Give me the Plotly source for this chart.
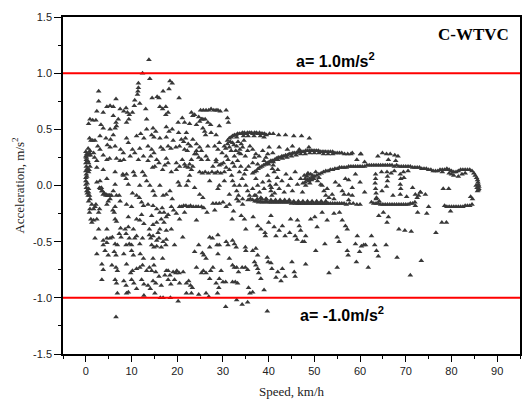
import plotly.graph_objects as go

# Acceleration vs. speed samples of the C-WTVC cycle, grouped by region of the map.
# Each entry is (speed in km/h, acceleration in m/s^2).

low_speed_start = [
    (0.0, 0.30), (0.2, 0.28), (0.1, 0.25), (0.0, 0.20), (0.1, 0.17), (0.0, 0.13),
    (0.1, 0.10), (0.0, 0.07), (0.0, 0.04), (0.0, 0.01), (0.1, -0.02), (0.2, -0.05),
    (0.3, -0.07), (0.5, -0.09), (0.4, 0.22), (0.6, 0.27), (0.3, 0.15), (0.2, 0.08),
    (0.3, 0.02), (0.8, 0.29), (1.0, 0.27), (0.6, -0.03), (0.1, 0.23), (0.0, 0.26),
    (0.6, 0.20), (0.9, 0.17), (0.7, 0.14), (0.6, 0.12), (0.6, -0.06), (0.8, -0.09),
    (0.9, -0.12), (0.6, -0.14), (1.3, -0.17), (0.9, -0.21), (0.8, -0.24),
    (1.7, -0.21), (2.0, -0.19), (2.2, -0.17), (1.1, -0.30), (1.3, -0.33), (1.7, -0.31),
    (2.4, -0.30), (2.8, -0.24), (3.0, -0.21),
]

banana_low = [
    (3.0, -0.02), (3.2, -0.03), (3.4, -0.02), (3.5, -0.05), (3.6, -0.05), (3.8, -0.08),
    (4.0, -0.07), (4.4, -0.09), (4.4, -0.08), (4.8, -0.09), (4.9, -0.09), (5.2, -0.09),
    (5.3, -0.09), (5.6, -0.09), (2.4, 0.03), (3.1, 0.04), (6.0, -0.05), (6.7, -0.09),
    (7.3, -0.09), (6.4, 0.01), (4.6, 0.06),
]

urban_accel = [
    (13.8, 1.12), (12.4, 1.00), (14.0, 0.95), (11.5, 0.91), (11.5, 0.87), (11.4, 0.84),
    (11.3, 0.81), (10.7, 0.76), (10.6, 0.71), (18.4, 0.93), (18.9, 0.91), (18.2, 0.86),
    (20.4, 0.78), (16.9, 0.84), (15.6, 0.79), (16.0, 0.78), (14.5, 0.78), (2.8, 0.84),
    (6.6, 0.77), (2.8, 0.75), (11.8, 0.73), (4.6, 0.70), (5.3, 0.71), (6.0, 0.70),
    (7.5, 0.68), (8.3, 0.66), (8.8, 0.69), (9.1, 0.65), (9.5, 0.63), (10.2, 0.65),
    (13.1, 0.68), (16.2, 0.70), (16.8, 0.68), (17.5, 0.70), (17.5, 0.63), (18.0, 0.65),
    (2.4, 0.66), (3.8, 0.65), (6.0, 0.62), (0.9, 0.59), (1.5, 0.58), (2.2, 0.58),
    (0.6, 0.55), (3.3, 0.54), (3.8, 0.51), (7.1, 0.59), (6.6, 0.56), (6.7, 0.53),
    (6.4, 0.51), (5.3, 0.50), (9.4, 0.59), (8.9, 0.56), (13.3, 0.59), (21.1, 0.60),
    (21.6, 0.56), (23.1, 0.65), (23.4, 0.62), (23.8, 0.63), (24.7, 0.61), (25.3, 0.59),
    (25.6, 0.59), (26.1, 0.59), (25.1, 0.67), (25.7, 0.67), (26.3, 0.67), (26.9, 0.67),
    (27.4, 0.68), (28.0, 0.67), (28.5, 0.67), (28.9, 0.67), (29.4, 0.66), (30.7, 0.67),
    (31.0, 0.60), (31.2, 0.56), (22.7, 0.55), (24.2, 0.54), (24.9, 0.57), (26.7, 0.56),
    (27.3, 0.54), (29.2, 0.53), (13.3, 0.50), (14.7, 0.51), (15.3, 0.48), (12.0, 0.46),
    (17.6, 0.52), (18.2, 0.48), (18.9, 0.50), (20.2, 0.56), (20.3, 0.47), (22.0, 0.47),
    (25.6, 0.51), (26.0, 0.48), (26.2, 0.45), (27.4, 0.47), (28.5, 0.45),
    (0.8, 0.42), (1.1, 0.40), (1.5, 0.40), (2.0, 0.40), (3.1, 0.44), (4.4, 0.42),
    (5.4, 0.41), (6.0, 0.45), (8.9, 0.42), (9.3, 0.38), (11.1, 0.44), (12.7, 0.42),
    (14.4, 0.45), (14.9, 0.43), (16.2, 0.42), (17.6, 0.43), (19.1, 0.40), (20.9, 0.41),
    (21.4, 0.39), (21.8, 0.42), (22.4, 0.37), (22.9, 0.35), (23.4, 0.41), (24.2, 0.37),
    (24.9, 0.34), (26.7, 0.35), (0.5, 0.33), (0.9, 0.31), (1.7, 0.29), (2.6, 0.35),
    (3.1, 0.32), (4.7, 0.36), (5.3, 0.34), (6.4, 0.35), (7.6, 0.32), (8.2, 0.29),
    (10.2, 0.32), (10.7, 0.29), (11.8, 0.33), (13.6, 0.35), (14.4, 0.32), (14.9, 0.29),
    (16.4, 0.34), (16.9, 0.32), (18.0, 0.35), (18.6, 0.33), (19.7, 0.34), (20.5, 0.35),
    (21.6, 0.32), (22.2, 0.31), (23.8, 0.28), (24.2, 0.31), (25.3, 0.31),
    (1.9, 0.25), (2.4, 0.22), (3.8, 0.27), (4.6, 0.23), (5.2, 0.24), (6.7, 0.24),
    (7.5, 0.22), (8.3, 0.23), (9.7, 0.26), (11.5, 0.23), (12.6, 0.26), (13.6, 0.22),
    (14.2, 0.26), (15.5, 0.23), (16.0, 0.20), (17.6, 0.24), (18.0, 0.20), (19.8, 0.20),
    (21.1, 0.23), (21.6, 0.19), (22.7, 0.19), (23.1, 0.23), (24.2, 0.28), (24.7, 0.25),
    (25.3, 0.23), (26.3, 0.26), (26.7, 0.23), (2.4, 0.16), (3.8, 0.14), (6.4, 0.12),
    (8.1, 0.10), (8.9, 0.10), (10.4, 0.12), (10.7, 0.09), (12.4, 0.12), (12.9, 0.09),
    (14.6, 0.16), (15.1, 0.17), (16.8, 0.14), (17.3, 0.18), (18.7, 0.12), (19.8, 0.14),
    (20.5, 0.17), (21.8, 0.17), (22.4, 0.16), (23.1, 0.14), (23.4, 0.17),
    (24.9, 0.12), (25.5, 0.11), (26.1, 0.12), (26.8, 0.11), (27.6, 0.12), (28.3, 0.11),
    (28.8, 0.12), (29.5, 0.11), (30.3, 0.12), (27.8, 0.17), (28.5, 0.21), (29.2, 0.18),
    (30.1, 0.20), (30.7, 0.16),
]

urban_cruise = [
    (8.2, 0.09), (8.8, 0.06), (9.3, 0.01), (10.2, -0.07), (11.1, -0.09), (11.7, -0.11),
    (11.8, 0.00), (13.3, 0.04), (14.0, 0.00), (14.7, -0.05), (15.1, -0.09), (16.2, 0.00),
    (16.9, -0.09), (17.6, -0.08), (18.4, -0.05), (18.9, -0.12), (20.2, 0.03), (20.5, 0.00),
    (22.0, 0.00), (22.4, 0.04), (22.7, 0.09), (23.8, -0.02), (24.9, -0.08), (25.6, -0.11),
    (27.1, 0.04), (28.9, -0.03), (29.2, 0.00), (30.3, 0.04),
]

urban_decel = [
    (4.6, -0.17), (4.9, -0.14), (5.3, -0.12), (6.4, -0.19), (5.9, -0.22), (6.2, -0.24),
    (7.5, -0.14), (8.9, -0.17), (10.0, -0.19), (12.2, -0.15), (12.6, -0.18), (13.6, -0.17),
    (14.7, -0.18), (15.5, -0.21), (16.2, -0.24), (16.7, -0.20), (17.1, -0.24), (17.6, -0.28),
    (18.0, -0.26), (16.5, -0.30), (17.1, -0.33), (18.7, -0.19), (19.2, -0.22), (19.8, -0.25),
    (20.5, -0.19), (20.9, -0.19), (21.4, -0.18), (21.9, -0.18), (22.4, -0.19), (22.9, -0.18),
    (23.5, -0.19), (24.1, -0.19), (24.6, -0.19), (25.3, -0.19), (25.8, -0.20),
    (21.6, -0.24), (26.5, -0.24), (27.8, -0.16), (28.5, -0.16), (29.2, -0.16), (30.0, -0.15),
    (6.4, -0.30), (6.7, -0.32), (9.3, -0.28), (11.1, -0.30), (12.2, -0.26), (14.4, -0.27),
    (15.5, -0.33), (20.5, -0.30), (24.2, -0.31), (2.8, -0.39), (4.6, -0.39), (7.6, -0.38),
    (8.6, -0.39), (9.3, -0.37), (10.4, -0.39), (11.8, -0.31), (12.7, -0.34), (13.9, -0.39),
    (14.7, -0.35), (15.8, -0.42), (16.2, -0.39), (17.6, -0.40), (18.7, -0.39), (21.2, -0.46),
    (2.0, -0.47), (3.8, -0.49), (4.6, -0.47), (5.3, -0.47), (5.8, -0.46), (7.3, -0.43),
    (7.7, -0.46), (8.8, -0.43), (9.5, -0.47), (10.7, -0.47), (11.1, -0.45), (11.8, -0.52),
    (12.4, -0.47), (13.9, -0.44), (14.2, -0.47), (14.7, -0.45), (15.5, -0.49), (16.0, -0.47),
    (16.9, -0.50), (17.6, -0.48), (3.8, -0.53), (4.6, -0.51), (6.4, -0.52), (6.9, -0.53),
    (8.8, -0.53), (9.5, -0.52), (10.0, -0.53), (14.4, -0.53), (14.9, -0.55), (15.5, -0.54),
    (16.5, -0.55), (17.5, -0.53), (19.4, -0.53), (2.4, -0.61), (4.2, -0.58), (4.9, -0.62),
    (6.2, -0.59), (6.6, -0.62), (8.3, -0.61), (10.0, -0.58), (10.4, -0.62), (11.9, -0.61),
    (12.6, -0.65), (14.7, -0.65), (16.8, -0.65), (3.5, -0.70), (3.8, -0.75), (5.7, -0.71),
    (6.6, -0.73), (6.9, -0.76), (8.9, -0.70), (9.8, -0.78), (10.2, -0.76), (11.1, -0.74),
    (11.8, -0.73), (12.4, -0.71), (13.3, -0.76), (13.9, -0.73), (14.4, -0.76), (14.9, -0.71),
    (15.3, -0.77), (16.0, -0.81), (17.3, -0.80), (17.6, -0.76), (3.5, -0.84), (6.4, -0.84),
    (6.7, -0.87), (8.3, -0.85), (8.8, -0.89), (10.0, -0.84), (10.5, -0.87), (11.1, -0.92),
    (12.2, -0.84), (12.7, -0.88), (13.6, -0.89), (14.1, -0.92), (14.7, -0.85), (15.3, -0.87),
    (16.5, -0.89), (6.9, -0.96), (8.9, -0.96), (9.3, -0.95), (12.7, -0.98), (15.1, -0.96),
    (16.3, -1.00), (16.9, -1.00), (18.5, -1.00), (20.2, -1.03), (6.6, -1.17),
    (18.0, -0.76), (18.4, -0.80), (19.1, -0.77), (19.7, -0.78), (19.9, -0.76), (20.4, -0.78),
    (21.3, -0.77), (18.0, -0.84), (18.6, -0.88), (19.4, -0.84), (20.5, -0.87), (22.0, -0.87),
    (22.5, -0.85), (22.9, -0.89), (23.3, -0.91), (24.7, -0.97), (26.3, -0.96), (26.9, -0.99),
    (23.1, -0.96), (22.0, -0.96), (25.7, -0.76), (26.3, -0.78), (25.3, -0.78), (27.3, -0.76),
    (27.8, -0.73), (24.2, -0.73), (27.1, -0.83), (28.5, -0.87), (29.1, -0.91), (29.2, -0.83),
    (29.6, -0.76), (28.8, -0.96), (30.0, -0.86), (30.6, -0.86), (23.8, -0.59), (24.7, -0.53),
    (25.5, -0.60), (25.8, -0.62), (27.1, -0.55), (27.1, -0.46), (27.7, -0.47), (28.7, -0.53),
    (28.9, -0.44), (29.2, -0.53), (30.7, -0.50), (31.1, -0.53), (28.9, -0.61), (26.3, -0.65),
    (31.4, -0.65), (28.2, -0.22),
]

suburban_accel = [
    (31.0, 0.40), (31.4, 0.42), (31.8, 0.43), (32.1, 0.44), (32.5, 0.45), (32.9, 0.45),
    (33.2, 0.46), (33.6, 0.46), (34.0, 0.46), (34.3, 0.47), (34.7, 0.47), (35.1, 0.46),
    (35.4, 0.47), (35.8, 0.47), (36.2, 0.47), (36.5, 0.46), (36.9, 0.47), (37.3, 0.47),
    (37.6, 0.46), (38.0, 0.47), (38.4, 0.46), (38.7, 0.46), (39.1, 0.46), (39.5, 0.45),
    (40.2, 0.46), (41.0, 0.46), (42.2, 0.45), (43.7, 0.45), (45.5, 0.44), (47.2, 0.44),
    (48.9, 0.42), (33.0, 0.43), (34.5, 0.44), (35.5, 0.44), (36.8, 0.44), (38.2, 0.44),
    (39.0, 0.43), (28.2, 0.35), (28.9, 0.32), (29.2, 0.38), (29.8, 0.29), (30.3, 0.35),
    (30.7, 0.26), (31.4, 0.34), (31.8, 0.31), (32.1, 0.38), (32.5, 0.26), (33.0, 0.35),
    (33.5, 0.29), (33.7, 0.32), (34.3, 0.34), (34.9, 0.26), (35.4, 0.31), (35.9, 0.35),
    (36.5, 0.32), (36.9, 0.25), (37.2, 0.28), (37.9, 0.26), (38.7, 0.31), (39.0, 0.22),
    (39.8, 0.28), (40.1, 0.34), (31.1, 0.23), (32.1, 0.20), (33.2, 0.22), (33.9, 0.17),
    (35.0, 0.14), (28.5, 0.23), (29.6, 0.19), (31.4, 0.14), (32.5, 0.17), (33.6, 0.12),
    (35.6, 0.17), (36.5, 0.20), (37.6, 0.19), (34.7, 0.10), (39.4, 0.25), (40.9, 0.29),
    (42.3, 0.34), (44.1, 0.32), (45.2, 0.35), (46.7, 0.32), (48.8, 0.34), (31.0, 0.37),
    (31.6, 0.39), (32.4, 0.36), (33.3, 0.39), (34.0, 0.37), (34.6, 0.40), (32.8, 0.31),
    (33.9, 0.28), (30.6, 0.33),
]

suburban_rise = [
    (36.5, 0.11), (36.9, 0.12), (37.3, 0.13), (37.7, 0.15), (38.1, 0.16), (38.5, 0.17),
    (38.9, 0.18), (39.3, 0.19), (39.7, 0.20), (40.1, 0.21), (40.5, 0.22), (40.9, 0.22),
    (41.3, 0.23), (41.7, 0.24), (42.1, 0.25), (42.5, 0.25), (42.9, 0.26), (43.3, 0.26),
    (43.7, 0.27), (44.1, 0.27), (44.5, 0.28), (44.9, 0.28), (45.3, 0.29), (45.7, 0.29),
    (46.1, 0.29), (46.5, 0.30), (46.9, 0.30), (47.3, 0.30), (47.7, 0.30), (48.1, 0.31),
    (48.5, 0.31), (48.9, 0.31), (49.3, 0.31), (49.7, 0.31), (50.1, 0.31), (50.5, 0.31),
    (50.9, 0.31), (51.3, 0.30), (51.7, 0.30), (52.1, 0.30), (52.5, 0.30), (53.0, 0.30),
    (53.5, 0.30), (54.0, 0.30), (54.5, 0.29), (55.0, 0.29), (55.5, 0.29), (56.0, 0.29),
    (56.6, 0.28), (57.3, 0.28), (58.0, 0.28), (60.2, 0.28), (40.0, 0.19), (41.0, 0.21),
    (42.0, 0.23), (43.0, 0.24), (44.0, 0.25), (45.0, 0.26), (46.0, 0.27), (47.0, 0.28),
    (48.0, 0.28), (49.0, 0.29), (50.0, 0.29), (51.0, 0.29), (52.0, 0.28), (53.0, 0.28),
    (54.0, 0.28), (59.3, 0.23), (61.0, 0.21),
]

suburban_mixed = [
    (37.2, 0.06), (37.6, 0.00), (38.0, -0.06), (38.7, 0.03), (39.0, -0.03), (39.8, 0.09),
    (40.1, 0.04), (40.3, 0.00), (40.5, -0.05), (40.7, -0.09), (41.2, 0.12), (41.6, 0.01),
    (41.9, 0.07), (42.3, -0.03), (42.9, 0.04), (43.4, -0.06), (43.8, 0.10), (44.3, 0.00),
    (44.8, 0.06), (45.2, -0.05), (45.8, 0.12), (46.3, 0.01), (47.0, 0.06), (47.4, -0.06),
    (48.1, 0.00), (48.5, 0.10), (37.2, -0.09), (38.3, -0.11), (39.4, -0.12), (36.5, -0.03),
    (36.9, -0.09), (40.8, 0.15), (41.0, 0.18), (40.6, -0.02), (41.3, -0.07), (42.0, 0.14),
    (31.9, 0.09), (32.1, 0.04), (32.5, 0.00), (33.0, -0.05), (33.6, 0.00), (34.2, 0.06),
    (35.0, 0.00), (35.4, -0.05), (35.8, -0.09), (33.4, -0.09), (31.4, -0.08), (34.3, -0.12),
    (49.6, 0.09), (49.9, 0.06), (50.3, 0.12), (50.7, 0.04), (51.0, 0.07), (51.4, 0.01),
    (51.7, 0.00), (52.1, -0.05), (52.5, -0.09), (52.8, -0.03), (53.2, -0.11), (53.9, -0.08),
    (54.3, -0.12), (54.6, 0.03), (55.4, 0.00), (56.1, -0.05), (56.8, 0.06), (57.5, -0.08),
    (58.3, -0.09), (48.0, 0.06), (48.4, 0.08), (48.8, 0.04), (49.2, 0.10), (49.0, 0.02),
    (48.6, 0.11), (49.4, 0.05), (47.8, 0.09), (57.5, 0.05), (58.3, -0.02), (60.0, 0.03),
    (61.0, -0.06), (59.0, 0.10), (56.5, -0.08), (57.5, -0.13),
]

suburban_decel = [
    (35.5, -0.13), (36.0, -0.12), (36.5, -0.13), (37.0, -0.14), (37.4, -0.14), (37.8, -0.15),
    (38.2, -0.14), (38.6, -0.15), (39.0, -0.15), (39.4, -0.14), (39.8, -0.15), (40.2, -0.15),
    (40.6, -0.15), (41.0, -0.15), (41.4, -0.15), (41.8, -0.15), (42.2, -0.15), (42.6, -0.15),
    (43.0, -0.15), (43.4, -0.15), (43.8, -0.15), (44.2, -0.15), (44.6, -0.15), (45.0, -0.16),
    (45.4, -0.15), (45.8, -0.16), (46.2, -0.16), (46.6, -0.16), (47.0, -0.16), (47.4, -0.16),
    (47.8, -0.16), (48.2, -0.16), (48.6, -0.16), (49.0, -0.16), (49.4, -0.16), (49.8, -0.16),
    (50.2, -0.16), (50.6, -0.16), (51.0, -0.16), (51.4, -0.16), (51.8, -0.16), (52.2, -0.16),
    (52.6, -0.16), (53.0, -0.16), (53.5, -0.16), (54.0, -0.16), (54.5, -0.16), (55.0, -0.16),
    (55.5, -0.16), (56.0, -0.16), (56.5, -0.16), (57.0, -0.17), (57.7, -0.16), (58.5, -0.16),
    (59.3, -0.17), (60.0, -0.17), (37.5, -0.12), (38.5, -0.12), (39.5, -0.12), (40.5, -0.13),
    (41.5, -0.13), (42.5, -0.13), (43.5, -0.13), (44.5, -0.13), (45.5, -0.14), (46.5, -0.14),
    (47.5, -0.14), (48.5, -0.14), (49.5, -0.14), (50.5, -0.14), (51.5, -0.14), (52.5, -0.14),
    (34.3, -0.17), (33.0, -0.12), (33.4, -0.14), (31.4, -0.17), (30.7, -0.19), (32.3, -0.23),
    (32.0, -0.30), (34.0, -0.27), (34.7, -0.30), (36.6, -0.28), (35.0, -0.39), (37.6, -0.36),
    (38.3, -0.39), (40.0, -0.33), (40.5, -0.27), (41.2, -0.37), (43.0, -0.36), (44.8, -0.30),
    (46.3, -0.31), (46.7, -0.36), (49.2, -0.30), (32.1, -0.49), (32.5, -0.52), (32.9, -0.55),
    (34.9, -0.55), (35.0, -0.58), (36.5, -0.58), (37.2, -0.56), (37.6, -0.62), (39.2, -0.42),
    (39.3, -0.45), (41.6, -0.45), (42.3, -0.40), (43.6, -0.45), (44.6, -0.42), (45.8, -0.45),
    (46.2, -0.48), (47.4, -0.50), (47.8, -0.50), (48.1, -0.45), (47.0, -0.40),
    (32.1, -0.71), (32.5, -0.73), (33.0, -0.73), (33.4, -0.77), (34.2, -0.73), (34.9, -0.73),
    (35.4, -0.75), (32.1, -0.86), (32.7, -0.86), (33.2, -0.87), (35.6, -0.91), (35.9, -0.96),
    (36.5, -0.95), (33.0, -1.02), (34.2, -1.06), (35.4, -1.04), (30.6, -1.08), (39.7, -1.12),
    (37.2, -0.71), (37.6, -0.74), (37.8, -0.78), (36.9, -0.68), (38.3, -0.83), (39.0, -0.93),
    (39.7, -0.64), (39.9, -0.68), (40.5, -0.69), (40.7, -0.74), (41.6, -0.82), (42.0, -0.77),
    (42.7, -0.85), (43.0, -0.74), (43.6, -0.81), (45.1, -0.68), (45.6, -0.77), (45.8, -0.81),
    (48.1, -0.70),
]

highway = [
    (47.5, 0.02), (48.0, 0.03), (48.5, 0.05), (49.0, 0.06), (49.5, 0.07), (50.0, 0.08),
    (50.5, 0.09), (51.0, 0.10), (51.5, 0.11), (52.0, 0.12), (52.5, 0.13), (53.0, 0.13),
    (53.5, 0.14), (54.0, 0.14), (54.5, 0.15), (55.0, 0.15), (55.5, 0.16), (56.0, 0.16),
    (56.5, 0.16), (57.0, 0.16), (57.5, 0.17), (58.0, 0.17), (58.5, 0.17), (59.0, 0.17),
    (59.5, 0.17), (60.0, 0.17), (60.5, 0.17), (61.0, 0.17), (61.5, 0.18), (62.0, 0.18),
    (62.5, 0.18), (63.0, 0.18), (63.5, 0.18), (64.0, 0.18), (64.5, 0.18), (65.0, 0.18),
    (65.5, 0.18), (66.0, 0.18), (66.5, 0.18), (67.0, 0.18), (67.5, 0.17), (68.0, 0.18),
    (68.5, 0.17), (69.0, 0.17), (69.5, 0.17), (70.0, 0.17), (70.5, 0.17), (71.0, 0.17),
    (71.5, 0.16), (72.0, 0.16), (72.5, 0.16), (73.0, 0.16), (73.5, 0.15), (74.0, 0.15),
    (74.5, 0.15), (75.0, 0.14), (75.5, 0.14), (76.0, 0.13), (76.5, 0.13), (77.0, 0.13),
    (77.5, 0.14), (78.0, 0.14), (78.5, 0.14), (79.0, 0.15), (79.5, 0.14), (80.0, 0.13),
    (80.5, 0.12), (81.0, 0.12), (81.5, 0.13), (82.0, 0.14), (82.5, 0.14), (83.0, 0.14),
    (83.5, 0.14), (84.0, 0.14), (84.5, 0.13), (84.9, 0.11), (85.2, 0.09), (85.5, 0.07),
    (85.7, 0.05), (85.8, 0.03), (85.9, 0.01), (86.0, -0.01), (86.0, -0.03), (85.9, -0.04),
    (85.7, -0.05), (85.6, -0.02), (85.4, 0.00), (79.5, 0.11), (80.5, 0.09), (81.5, 0.08),
    (82.3, 0.10), (83.0, 0.11), (80.0, 0.10), (78.0, 0.12),
    (64.9, 0.29), (65.8, 0.28), (66.6, 0.28), (67.6, 0.27), (68.3, 0.26), (63.9, 0.26),
    (66.2, 0.23), (67.8, 0.22), (58.3, 0.29), (60.1, 0.28),
    (63.4, 0.10), (63.4, 0.06), (63.3, 0.02), (63.4, -0.03), (63.5, -0.07), (63.6, -0.11),
    (65.9, 0.12), (66.0, 0.08), (66.0, 0.04), (65.8, -0.01), (68.8, 0.10), (68.9, 0.06),
    (68.8, 0.01), (68.9, -0.03), (68.8, -0.08), (69.5, 0.12), (69.6, 0.07), (66.8, 0.11),
    (67.5, 0.13), (64.7, 0.12), (70.5, 0.13), (71.5, -0.02), (72.1, -0.08), (72.5, -0.11),
    (73.2, -0.06), (64.8, -0.05), (67.2, -0.09), (70.2, -0.10), (72.8, -0.09), (73.2, -0.06),
    (74.3, -0.08), (79.4, -0.03), (78.2, -0.03),
    (62.5, -0.15), (63.0, -0.16), (63.5, -0.16), (64.0, -0.16), (64.5, -0.17), (65.0, -0.17),
    (65.5, -0.17), (66.0, -0.17), (66.5, -0.17), (67.0, -0.17), (67.5, -0.17), (68.0, -0.17),
    (68.5, -0.17), (69.0, -0.17), (69.5, -0.17), (70.0, -0.17), (70.5, -0.17), (71.0, -0.16),
    (71.5, -0.16), (72.0, -0.15), (63.5, -0.12), (64.2, -0.14), (72.1, -0.18),
    (78.5, -0.18), (79.0, -0.19), (79.5, -0.19), (80.0, -0.19), (80.5, -0.19), (81.0, -0.19),
    (81.5, -0.19), (82.0, -0.19), (82.5, -0.19), (83.0, -0.18), (83.5, -0.18), (84.0, -0.18),
    (84.5, -0.17), (84.6, -0.12), (84.2, -0.10),
    (50.1, -0.28), (50.6, -0.37), (51.7, -0.24), (52.8, -0.31), (54.3, -0.25), (55.5, -0.24),
    (56.1, -0.31), (56.8, -0.36), (57.2, -0.39), (55.0, -0.46), (55.4, -0.50), (52.3, -0.52),
    (50.3, -0.58), (57.2, -0.58), (57.4, -0.62), (59.0, -0.52), (59.4, -0.45), (59.9, -0.59),
    (60.3, -0.54), (60.8, -0.53), (61.2, -0.53), (62.5, -0.45), (63.2, -0.53), (63.6, -0.58),
    (64.0, -0.63), (65.7, -0.53), (59.2, -0.68), (61.8, -0.73), (55.0, -0.73), (53.2, -0.78),
    (68.1, -0.64), (71.0, -0.80), (73.4, -0.67), (68.5, -0.39), (69.8, -0.40), (71.2, -0.41),
    (66.2, -0.28), (65.9, -0.33), (65.1, -0.24), (64.1, -0.27), (74.6, -0.25), (76.6, -0.42),
    (77.9, -0.33), (78.9, -0.33), (79.8, -0.23), (75.0, -0.19), (72.6, -0.24),
]

clusters = [low_speed_start, banana_low, urban_accel, urban_cruise, urban_decel,
            suburban_accel, suburban_rise, suburban_mixed, suburban_decel, highway]
speed = [p[0] for c in clusters for p in c]
accel = [p[1] for c in clusters for p in c]

fig = go.Figure()
fig.add_trace(go.Scatter(
    x=speed, y=accel, mode="markers",
    marker=dict(symbol="triangle-up", size=5, color="#383838", line=dict(width=0)),
    showlegend=False, hoverinfo="skip",
))

# acceleration limits
for lim in (1.0, -1.0):
    fig.add_shape(type="line", xref="paper", x0=0, x1=1, yref="y", y0=lim, y1=lim,
                  line=dict(color="#ff0000", width=2))

sans = "Liberation Sans, Arial, sans-serif"
serif = "Liberation Serif, Times New Roman, serif"

fig.add_annotation(x=54.7, y=1.12, text="<b>a= 1.0m/s<sup>2</sup></b>", showarrow=False,
                   font=dict(family=sans, size=16, color="#000"))
fig.add_annotation(x=56.0, y=-1.14, text="<b>a= -1.0m/s<sup>2</sup></b>", showarrow=False,
                   font=dict(family=sans, size=16, color="#000"))
fig.add_annotation(x=84.8, y=1.34, text="<b>C-WTVC</b>", showarrow=False,
                   font=dict(family=serif, size=17, color="#000"))

axis_common = dict(
    showline=True, linecolor="#000", linewidth=1.5, mirror=True,
    showgrid=False, zeroline=False, ticks="outside", tickcolor="#000", tickwidth=1.2,
    tickfont=dict(family=sans, size=11, color="#222"),
)

fig.update_xaxes(
    range=[-5, 95], tickmode="array", tickvals=[0, 10, 20, 30, 40, 50, 60, 70, 80, 90],
    ticklen=6, minor=dict(dtick=5, tick0=0, ticks="outside", ticklen=3, tickcolor="#000"),
    title=dict(text="Speed, km/h", font=dict(family=serif, size=13, color="#222"), standoff=11),
    **axis_common,
)
fig.update_yaxes(
    range=[-1.5, 1.5], tickmode="array", tickvals=[-1.5, -1.0, -0.5, 0.0, 0.5, 1.0, 1.5],
    ticktext=["-1.5", "-1.0", "-0.5", "0.0", "0.5", "1.0", "1.5"],
    ticklen=7, minor=dict(dtick=0.25, tick0=0, ticks="outside", ticklen=3, tickcolor="#000"),
    title=dict(text="Acceleration, m/s<sup>2</sup>", font=dict(family=serif, size=13, color="#222"),
               standoff=6),
    **axis_common,
)

fig.update_layout(
    width=528, height=403,
    margin=dict(l=63, r=6, t=17, b=47, pad=0),
    plot_bgcolor="#fff", paper_bgcolor="#fff",
)

fig.write_html("out.html")
